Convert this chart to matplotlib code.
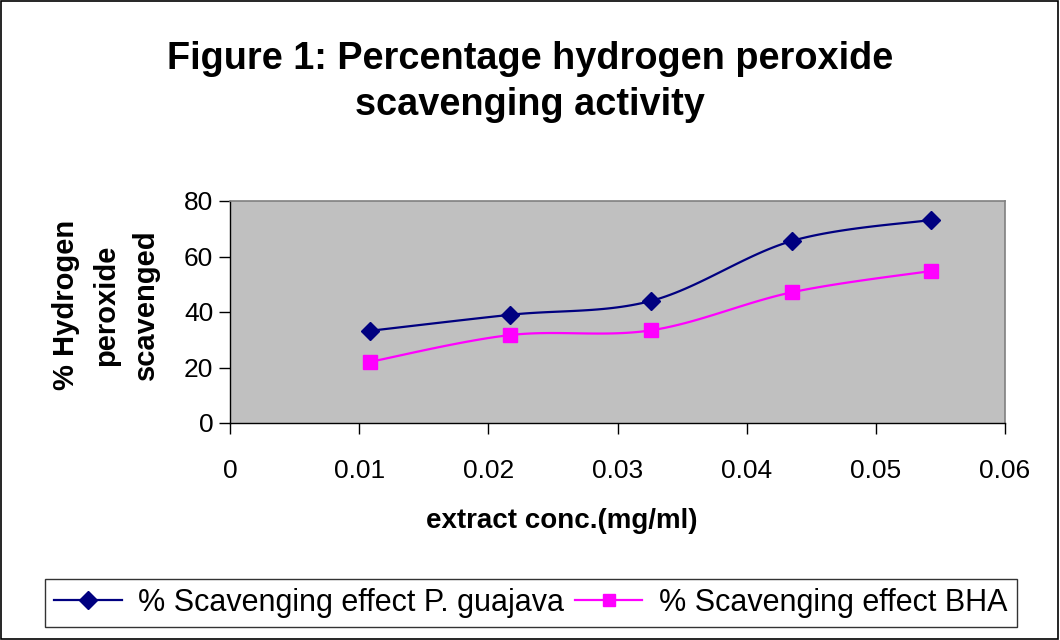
import numpy as np
import matplotlib.pyplot as plt
from matplotlib.patches import Rectangle

plt.rcParams["font.family"] = ["Liberation Sans", "DejaVu Sans"]

# data
conc = [0.0108, 0.0217, 0.0326, 0.0435, 0.0543]
guajava = [33.2, 39.0, 44.0, 65.6, 73.2]
bha = [22.0, 31.7, 33.4, 47.1, 54.8]


def smooth(x, y, n=30):
    # Excel-like smoothed line (Catmull-Rom style Bezier segments)
    pts = np.column_stack([x, y])
    p = np.vstack([pts[0], pts, pts[-1]])
    t = np.linspace(0, 1, n)[:, None]
    segs = []
    for i in range(1, len(p) - 2):
        p0, p1, p2, p3 = p[i - 1], p[i], p[i + 1], p[i + 2]
        c1 = p1 + (p2 - p0) / 6
        c2 = p2 - (p3 - p1) / 6
        segs.append((1 - t) ** 3 * p1 + 3 * (1 - t) ** 2 * t * c1
                    + 3 * (1 - t) * t ** 2 * c2 + t ** 3 * p2)
    s = np.vstack(segs)
    return s[:, 0], s[:, 1]


fig = plt.figure(figsize=(10.6, 6.4), dpi=100)
ax = fig.add_axes([230 / 1060, 1 - 423 / 640, 775 / 1060, 222 / 640])
ax.set_facecolor("#C0C0C0")

sx, sy = smooth(conc, guajava)
ax.plot(sx, sy, color="#000080", lw=1.6)
ax.plot(conc, guajava, ls="none", marker="D", ms=9, color="#000080")
sx, sy = smooth(conc, bha)
ax.plot(sx, sy, color="#FF00FF", lw=1.6)
ax.plot(conc, bha, ls="none", marker="s", ms=10, color="#FF00FF")

# legend proxies
h1, = ax.plot([], [], color="#000080", lw=1.6, marker="D", ms=9,
              label="% Scavenging effect P. guajava")
h2, = ax.plot([], [], color="#FF00FF", lw=1.6, marker="s", ms=9,
              label="% Scavenging effect BHA")

ax.set_xlim(0, 0.06)
ax.set_ylim(0, 80)
ax.set_xticks([0, 0.01, 0.02, 0.03, 0.04, 0.05, 0.06])
ax.set_xticklabels(["0", "0.01", "0.02", "0.03", "0.04", "0.05", "0.06"])
ax.set_yticks([0, 20, 40, 60, 80])
ax.tick_params(axis="both", direction="out", length=8, width=1, labelsize=19,
               color="black")
ax.tick_params(axis="x", pad=18)
ax.tick_params(axis="y", pad=4)

for s in ["top", "right"]:
    ax.spines[s].set_color("#808080")
    ax.spines[s].set_linewidth(1.2)
for s in ["left", "bottom"]:
    ax.spines[s].set_color("black")
    ax.spines[s].set_linewidth(1)

fig.text(562 / 1060, 1 - 521 / 640, "extract conc.(mg/ml)", ha="center",
         va="center", fontsize=20, fontweight="bold")
fig.text(106 / 1060, 1 - 305 / 640, "% Hydrogen\nperoxide\nscavenged",
         rotation=90, ha="center", va="center", fontsize=21,
         fontweight="bold", linespacing=1.55)

fig.text(0.5, 1 - 82 / 640,
         "Figure 1: Percentage hydrogen peroxide\nscavenging activity",
         ha="center", va="center", fontsize=27.3, fontweight="bold",
         linespacing=1.35)

leg = fig.legend(handles=[h1, h2], loc="center", ncol=2,
                 bbox_to_anchor=(531 / 1060, 1 - 603 / 640),
                 fontsize=22, frameon=True, fancybox=False,
                 handlelength=2.2, handletextpad=0.55, borderaxespad=0,
                 columnspacing=0.35, borderpad=0.3)
leg.get_frame().set_edgecolor("black")
leg.get_frame().set_linewidth(1)

fig.patches.append(Rectangle((0.001, 0.002), 0.997, 0.996, transform=fig.transFigure,
                             fill=False, edgecolor="black", lw=1.2))

fig.savefig("out.png", dpi=100)
